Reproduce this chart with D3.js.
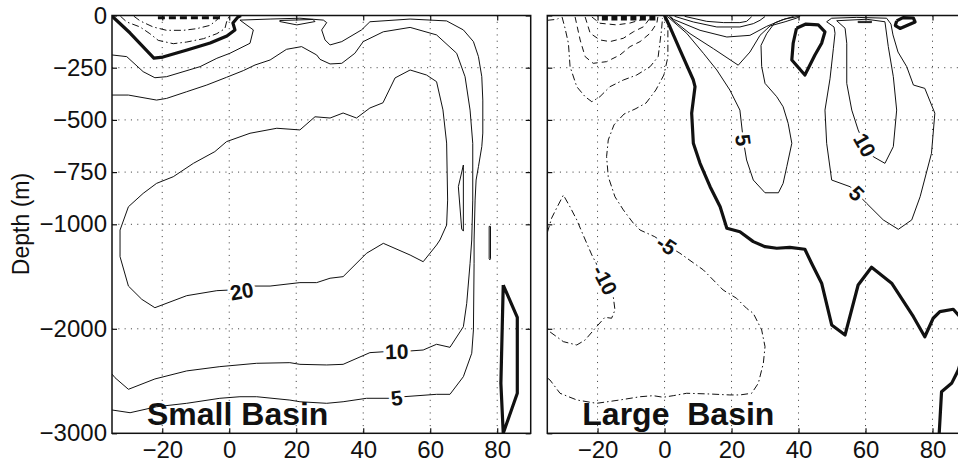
<!DOCTYPE html>
<html><head><meta charset="utf-8">
<script src="https://cdn.jsdelivr.net/npm/d3@7"></script>
<style>
body{margin:0;background:#fff;}
svg{display:block;font-family:"Liberation Sans",Arial,Helvetica,sans-serif;}
</style></head><body>
<svg id="chart" width="958" height="465"></svg>
<script>
// ---------- axes data ----------
const latDomain = [-35, 90];
const depthBreaks = [0, -1000, -3000];
const latTicks = [-20, 0, 20, 40, 60, 80];
const depthTicks = [0, -250, -500, -750, -1000, -2000, -3000];
const gridDepths = [-250, -500, -750, -1000, -2000];
const panelTitles = ["Small Basin", "Large  Basin"];
const yAxisTitle = "Depth (m)";

// ---------- Small basin contours [latitude, depth] ----------
const sbZero = [[-34.9,-3],[-34.4,-12],[-29.6,-84],[-22.5,-204],[-19.8,-199],[-12.6,-165],[-5.7,-132],[-0.7,-98],[1.7,-69],[1.1,-36],[2.6,-7],[3.5,0]];
const sbZeroDeep = [[81.8,-1581],[86.0,-1890],[86.0,-2617],[81.8,-3000],[81.1,-2521],[81.8,-1581]];
const sbPos5 = [[-35,-189],[-30.6,-197],[-25.7,-269],[-22.2,-298],[-18.7,-293],[-8.7,-245],[-3.7,-205],[0.2,-181],[6.2,-133],[7.2,-69],[3.2,-22],[12.2,-17],[21.1,-13],[28.1,-22],[29.1,-34],[27.6,-69],[28.6,-117],[30.1,-141],[33.6,-125],[39.5,-69],[42.0,-30],[54.0,-17],[64.9,-26],[69.9,-69],[72.9,-125],[74.4,-197],[75.4,-293],[75.7,-405],[75.7,-563],[75.4,-628],[74.4,-724],[73.7,-788],[73.4,-884],[73.1,-1150],[73.1,-1373],[72.9,-2011],[72.4,-2234],[69.9,-2458],[65.9,-2627],[61.9,-2627],[52.0,-2650],[50,-2660],[48.0,-2665],[41.0,-2665],[34.0,-2698],[29.1,-2713],[21.1,-2698],[18.1,-2682],[8.2,-2650],[3.2,-2650],[-2.8,-2665],[-12.7,-2713],[-21.7,-2746],[-29.6,-2803],[-35,-2777]];
const sbPos10 = [[-35,-381],[-30.1,-381],[-21.7,-405],[-18.7,-397],[-12.7,-365],[-6.7,-333],[-0.8,-296],[4.2,-264],[7.7,-237],[12.2,-213],[17.1,-162],[21.6,-149],[26.1,-189],[27.1,-210],[30.1,-232],[33.6,-229],[37.5,-181],[40.0,-125],[46.0,-78],[54.0,-57],[61.9,-93],[67.9,-181],[70.4,-293],[71.9,-453],[72.7,-612],[72.7,-884],[72.4,-1150],[71.9,-1373],[70.9,-1756],[69.9,-1980],[65.9,-2177],[61.9,-2148],[57.9,-2203],[54.0,-2212],[50,-2216],[46.5,-2219],[42.0,-2228],[34.0,-2340],[29.1,-2346],[21.1,-2340],[18.1,-2324],[8.2,-2330],[-2.8,-2362],[-12.7,-2403],[-22.2,-2480],[-30.1,-2579],[-34.1,-2468],[-35,-2433]];
const sbPos20 = [[21.1,-548],[25.6,-485],[30.1,-491],[34.0,-467],[38.0,-491],[42.0,-443],[45.9,-418],[49.5,-299],[54.0,-261],[58.9,-285],[61.9,-317],[63.8,-452],[64.9,-611],[65.2,-884],[64.9,-1007],[62.9,-1150],[61.9,-1198],[57.9,-1358],[54.0,-1294],[46.0,-1182],[41.0,-1277],[34.0,-1501],[30.1,-1516],[26.1,-1558],[21.1,-1558],[12.2,-1591],[7.2,-1591],[3.7,-1638],[0.2,-1629],[-3.7,-1635],[-12.7,-1683],[-22.2,-1798],[-26.1,-1718],[-30.1,-1591],[-32.6,-1310],[-32.6,-1055],[-30.1,-916],[-25.7,-852],[-21.7,-804],[-16.7,-772],[-10.7,-708],[-4.3,-652],[-0.8,-604],[6.2,-564],[14.2,-540],[21.1,-548]];
const sbSliverA = [[69.9,-716],[68.4,-820],[69.4,-1045],[69.9,-1065],[69.9,-730],[69.9,-716]];
const sbSliverB = [[77.6,-1020],[78.0,-1020],[78.0,-1330],[77.8,-1340],[77.6,-1330],[77.6,-1020]];
const sbSurfCell = [[15.1,-24],[25.0,-19],[25.6,-29],[20.2,-45],[15.1,-29],[15.1,-24]];
const sbNeg5 = [[-32.5,-3],[-30.6,-31],[-26.6,-55],[-23.7,-87],[-21.2,-119],[-16.7,-135],[-12.7,-127],[-7.7,-111],[-3.7,-87],[-1.3,-63],[-0.8,-31],[0,-3]];
const sbNeg10 = [[-28.5,-3],[-26.6,-26],[-22.7,-55],[-18.7,-71],[-13.7,-71],[-9.7,-63],[-5.7,-47],[-3.4,-17],[-2.8,-3]];
const sbNegSurf = [[-21.3,-11],[-2.2,-11]];

// ---------- Large basin contours [latitude, depth] ----------
const lbZero = [[0,0],[1.6,-54],[4.6,-165],[8.6,-309],[9.1,-341],[8.1,-468],[8.6,-612],[10.6,-708],[13.6,-820],[16.6,-916],[18.6,-1038],[22.5,-1071],[26.5,-1166],[30.0,-1214],[33.5,-1229],[37.4,-1220],[41.9,-1239],[43.9,-1373],[46.9,-1564],[49.9,-1963],[53.9,-2059],[57.8,-1581],[61.8,-1411],[67.8,-1564],[74.3,-1884],[77.7,-2076],[80.2,-1899],[82.2,-1836],[86.2,-1813],[88.5,-1896],[89.2,-2107],[88.8,-2279],[87.7,-2394],[85.7,-2522],[82.7,-2602],[82.0,-3000]];
const lbZeroCellA = [[39.4,-61],[42.2,-41],[45.9,-45],[47.9,-78],[46.9,-133],[44.9,-189],[41.9,-285],[38.0,-213],[38.4,-133],[39.4,-61]];
const lbZeroCellB = [[69.3,-26],[71.2,-10],[74.3,-12],[74.8,-31],[70.3,-62],[68.9,-48],[69.3,-26]];
const lbPos15Cell = [[57.8,-28],[61.8,-28],[61.8,-34],[57.8,-34],[57.8,-28]];
const lbPos5West = [[0.8,-4],[6.6,-85],[11.6,-181],[15.6,-261],[19.5,-357],[22.5,-453],[23.5,-596],[24.5,-692],[26.5,-788],[30.0,-849],[34.0,-849],[35.4,-804],[36.5,-724],[38.0,-612],[36.9,-516],[35.4,-437],[33.5,-389],[30.0,-325],[29.0,-245],[28.8,-143],[30.5,-87],[32.9,-35],[36,-16],[39.8,-5]];
const lbPos10West = [[1.4,-4],[2.6,-23],[7.6,-87],[14.6,-159],[22,-238],[25.5,-175],[28.5,-95],[31.5,-50],[36,-30],[39.5,-12],[40.5,-4]];
const lbPos15West = [[1.8,-4],[2.6,-18],[10.6,-71],[18.6,-103],[25.5,-95],[30.5,-52],[35,-22],[38.5,-5]];
const lbPos20West = [[3,-4],[8.6,-31],[15.6,-55],[22.5,-55],[26.5,-39],[28.5,-23],[30,-5]];
const lbPos25West = [[6,-4],[12.6,-28],[17.6,-34],[22.5,-34],[24.5,-28],[26,-6]];
const lbPos5East = [[48.4,-30],[50.6,-55],[50.9,-85],[50.4,-159],[49.4,-303],[47.9,-453],[48.4,-612],[49.9,-788],[55.4,-820],[57.4,-852],[60.3,-899],[65.3,-979],[69.8,-1048],[73.8,-979],[76.3,-868],[79.7,-660],[80.7,-468],[77.7,-349],[74.3,-333],[72.3,-245],[69.7,-175],[68.2,-93],[67.6,-41],[66.3,-13],[57.4,-9],[49.9,-13],[48.4,-30]];
const lbPos10East = [[51.4,-25],[53.9,-61],[54.4,-133],[54.4,-325],[55.9,-453],[57.8,-548],[59.8,-620],[62.3,-676],[65.8,-708],[68.3,-628],[69.3,-453],[68.3,-293],[66.8,-149],[65.8,-30],[60.3,-18],[51.4,-25]];
const lbNeg5 = [[0.3,-5],[1.0,-22],[1.0,-117],[1.0,-199],[-0.2,-285],[-2.6,-357],[-5.5,-419],[-8.8,-448],[-12.1,-472],[-15.1,-524],[-16.8,-596],[-17.3,-676],[-16.8,-772],[-14.8,-868],[-12.3,-931],[-9.3,-995],[-7.3,-1055],[-2.9,-1119],[0.6,-1198],[4.6,-1277],[11.6,-1437],[17.5,-1629],[21.5,-1708],[24.5,-1804],[26.5,-1852],[29.0,-2011],[30.0,-2171],[29.5,-2330],[28.0,-2521],[26.0,-2617],[22.5,-2633],[19.5,-2633],[13.6,-2624],[6.6,-2617],[2.6,-2640],[-0.4,-2655],[-3.4,-2640],[-7.3,-2650],[-13.3,-2681],[-20.3,-2713],[-26.2,-2681],[-31.2,-2617],[-34.2,-2490],[-35,-2470]];
const lbNeg10 = [[-35,-1080],[-33.7,-970],[-32.2,-922],[-30.2,-860],[-28.2,-917],[-26.2,-979],[-24.3,-1102],[-21.7,-1294],[-17.8,-1533],[-15.3,-1693],[-14.8,-1820],[-15.8,-1899],[-17.8,-1890],[-20.3,-1980],[-23.7,-2107],[-26.2,-2155],[-30.2,-2123],[-32.2,-2076],[-35,-2011]];
const lbNegCellA = [[-30.6,-7],[-29.7,-61],[-28.7,-133],[-28.2,-245],[-26.2,-341],[-23.7,-389],[-21.7,-413],[-19.3,-389],[-16.3,-341],[-12.3,-309],[-8.3,-285],[-4.3,-245],[-1.9,-197],[-1.4,-133],[-0.9,-69],[-0.6,-12]];
const lbNegCellB = [[-26.7,-7],[-25.2,-117],[-23.7,-197],[-21.3,-229],[-17.3,-221],[-13.3,-189],[-10.3,-149],[-7.3,-125],[-4.3,-85],[-2.3,-37],[-2.0,-7]];
const lbNegCellC = [[-23.7,-7],[-22.2,-85],[-19.3,-117],[-16.3,-125],[-12.3,-109],[-9.3,-78],[-6.3,-54],[-4.3,-12]];
const lbNegCellD = [[-21.7,-7],[-19.3,-37],[-14.3,-45],[-10.3,-36],[-6.3,-17],[-5,-2]];
const lbNegCorner = [[-35,-23],[-32,-18],[-31.2,-5]];
const lbNegSurf = [[-18.7,-12],[-2.0,-12]];

// contour sets: level of each line, optional label anchor
const smallBasin = [
  {level:20, pts:sbPos20, labelAt:[3.7,-1638]},
  {level:10, pts:sbPos10, labelAt:[50,-2216]},
  {level:5,  pts:sbPos5,  labelAt:[50,-2660]},
  {level:15, pts:sbSliverA},
  {level:5,  pts:sbSliverB},
  {level:5,  pts:sbSurfCell},
  {level:-5, pts:sbNeg5},
  {level:-10,pts:sbNeg10},
  {level:-30,pts:sbNegSurf},
  {level:0,  pts:sbZero},
  {level:0,  pts:sbZeroDeep}
];
const largeBasin = [
  {level:5,  pts:lbPos5West, labelAt:[23.5,-596]},
  {level:10, pts:lbPos10West},
  {level:15, pts:lbPos15West},
  {level:20, pts:lbPos20West},
  {level:25, pts:lbPos25West},
  {level:5,  pts:lbPos5East, labelAt:[57.4,-852]},
  {level:10, pts:lbPos10East, labelAt:[59.8,-620]},
  {level:15, pts:lbPos15Cell},
  {level:-5, pts:lbNeg5, labelAt:[0.6,-1198]},
  {level:-10,pts:lbNeg10, labelAt:[-17.8,-1533]},
  {level:-10,pts:lbNegCellA},
  {level:-15,pts:lbNegCellB},
  {level:-20,pts:lbNegCellC},
  {level:-25,pts:lbNegCellD},
  {level:-5, pts:lbNegCorner},
  {level:-40,pts:lbNegSurf},
  {level:0,  pts:lbZero},
  {level:0,  pts:lbZeroCellA},
  {level:0,  pts:lbZeroCellB}
];

// ---------- drawing ----------
const svg = d3.select("#chart");
const TOP = 15.5, MID = 224.3, BOT = 433.3;
const y = d3.scaleLinear().domain(depthBreaks).range([TOP, MID, BOT]);
const panels = [
  {title: panelTitles[0], x: d3.scaleLinear().domain(latDomain).range([112, 530.7]), contours: smallBasin, yLabels: true},
  {title: panelTitles[1], x: d3.scaleLinear().domain(latDomain).range([547.3, 966]), contours: largeBasin, yLabels: false}
];

function styleOf(level){
  if (level === 0) return {w:3.2, dash:null};
  if (level > 0) return {w:1, dash:null};
  if (level <= -40) return {w:5, dash:"6,3.5"};
  if (level <= -30) return {w:3, dash:"7,4"};
  if (level >= -10) return {w:1, dash:"7,3,1.5,3"};
  return {w:1, dash:"6,4"};
}
const fmtTick = d => d < 0 ? "\u2212" + Math.abs(d) : String(d);

svg.append("rect").attr("width",958).attr("height",465).attr("fill","#fff");

panels.forEach((p, i) => {
  const [x0, x1] = p.x.range();
  const g = svg.append("g");
  const clipId = "clip" + i;
  svg.append("clipPath").attr("id", clipId).append("rect")
    .attr("x", x0).attr("y", TOP).attr("width", x1 - x0).attr("height", BOT - TOP);

  // grid
  const grid = g.append("g").attr("stroke", "#333").attr("stroke-width", 0.9).attr("stroke-dasharray", "1.1,5.2");
  grid.selectAll("line.v").data(latTicks).join("line").attr("class","v")
    .attr("x1", d => p.x(d)).attr("x2", d => p.x(d)).attr("y1", TOP).attr("y2", BOT);
  grid.selectAll("line.h").data(gridDepths).join("line").attr("class","h")
    .attr("x1", x0).attr("x2", x1).attr("y1", d => y(d)).attr("y2", d => y(d));

  // contours
  const line = d3.line().x(d => p.x(d[0])).y(d => y(d[1]));
  const cg = g.append("g").attr("clip-path", `url(#${clipId})`);
  cg.selectAll("path").data(p.contours).join("path")
    .attr("d", d => line(d.pts))
    .attr("fill", "none")
    .attr("stroke", "#111")
    .attr("stroke-linejoin", "round")
    .attr("stroke-width", d => styleOf(d.level).w)
    .attr("stroke-dasharray", d => styleOf(d.level).dash);

  // contour labels
  const lab = cg.append("g");
  p.contours.filter(c => c.labelAt).forEach(c => {
    const px = c.pts.map(d => [p.x(d[0]), y(d[1])]);
    const t = [p.x(c.labelAt[0]), y(c.labelAt[1])];
    let k = 0, best = Infinity;
    px.forEach((q, j) => { const dd = (q[0]-t[0])**2 + (q[1]-t[1])**2; if (dd < best) { best = dd; k = j; } });
    const a = px[Math.max(0, k-1)], b = px[Math.min(px.length-1, k+1)];
    let ang = Math.atan2(b[1]-a[1], b[0]-a[0]) * 180 / Math.PI;
    if (ang > 90) ang -= 180;
    if (ang < -90) ang += 180;
    lab.append("text")
      .attr("transform", `translate(${px[k][0]},${px[k][1]}) rotate(${ang})`)
      .attr("text-anchor", "middle").attr("dy", "0.36em")
      .attr("font-size", 21).attr("font-weight", "bold")
      .attr("fill", "#111").attr("stroke", "#fff").attr("stroke-width", 6)
      .attr("paint-order", "stroke")
      .text(c.level);
  });

  // title
  g.append("text").attr("x", x0 + 35).attr("y", 424.5)
    .attr("font-size", 32).attr("font-weight", "bold").attr("fill", "#111")
    .style("white-space", "pre").text(p.title);

  // box
  g.append("rect").attr("x", x0).attr("y", TOP).attr("width", x1 - x0).attr("height", BOT - TOP)
    .attr("fill", "none").attr("stroke", "#111").attr("stroke-width", 1.5);

  // axes (inward ticks)
  const ax = g.append("g");
  ax.append("g").attr("transform", `translate(0,${BOT})`)
    .call(d3.axisBottom(p.x).tickValues(latTicks).tickSize(-5).tickSizeOuter(0).tickPadding(8).tickFormat(fmtTick));
  ax.append("g").attr("transform", `translate(0,${TOP})`)
    .call(d3.axisTop(p.x).tickValues(latTicks).tickSize(-5).tickSizeOuter(0).tickFormat(""));
  ax.append("g").attr("transform", `translate(${x0},0)`)
    .call(d3.axisLeft(y).tickValues(depthTicks).tickSize(-5).tickSizeOuter(0).tickPadding(5)
      .tickFormat(p.yLabels ? fmtTick : ""));
  ax.append("g").attr("transform", `translate(${x1},0)`)
    .call(d3.axisRight(y).tickValues(depthTicks).tickSize(-5).tickSizeOuter(0).tickFormat(""));
  ax.selectAll(".domain").remove();
  ax.selectAll(".tick line").attr("stroke", "#111").attr("stroke-width", 1.2);
  ax.selectAll("text").attr("fill", "#111").attr("font-size", 24)
    .attr("font-family", '"Liberation Sans",Arial,sans-serif');
});

// y axis title
svg.append("text").attr("transform", "translate(29,224) rotate(-90)")
  .attr("text-anchor", "middle").attr("font-size", 23).attr("fill", "#111")
  .text(yAxisTitle);
</script>
</body></html>
